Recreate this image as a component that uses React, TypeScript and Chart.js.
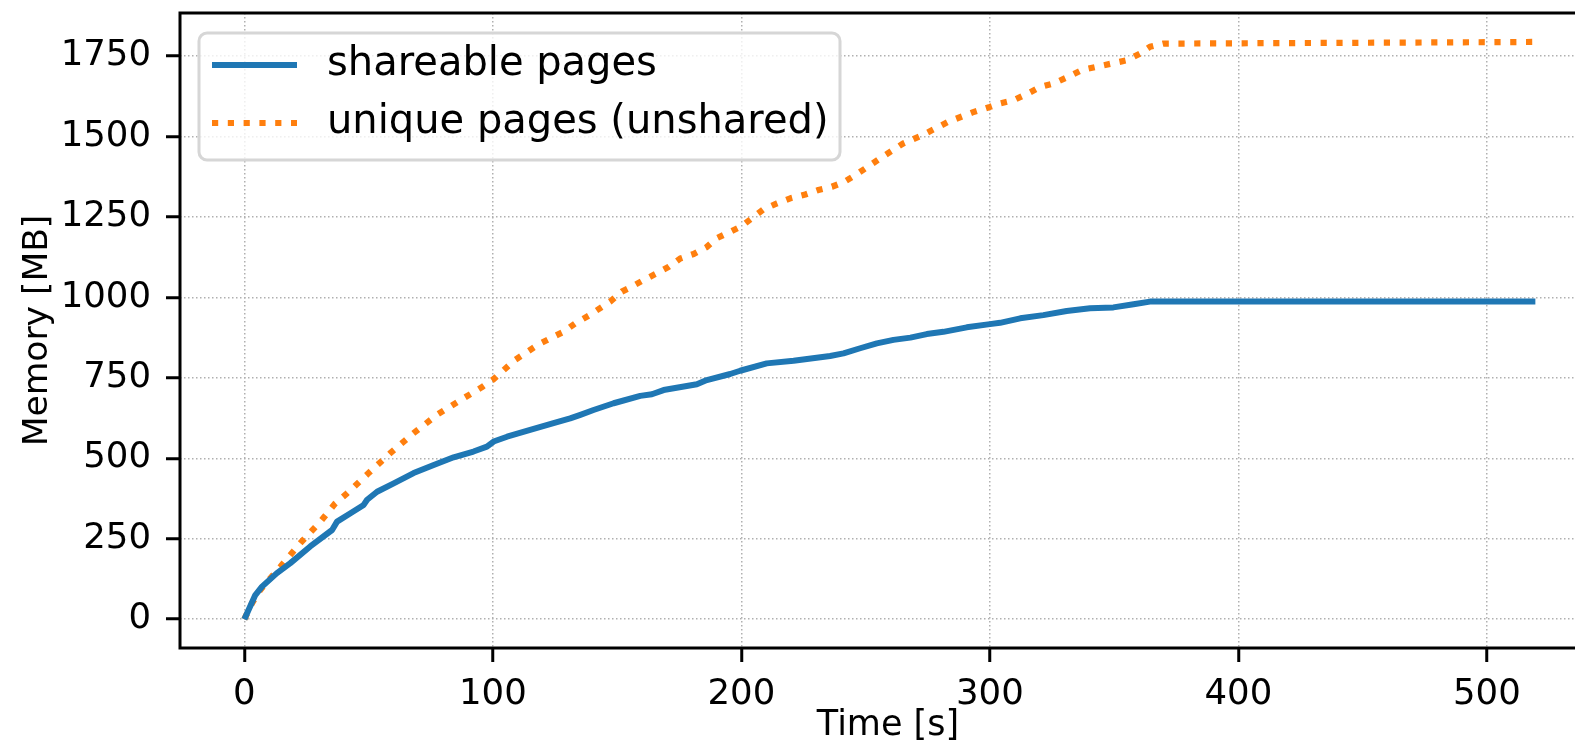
import React, { useEffect, useRef } from "react";
import { Chart, registerables } from "chart.js";

Chart.register(...registerables);

// ---- Data ----
const shareableTime = [0, 4.4, 7.1, 13.1, 18.5, 26.5, 35.3, 37.3, 42.7, 48, 49.4, 53.4, 60.1, 68.1, 76.2, 84.2, 92.2, 97.6, 100.3, 105.7, 115, 124.4, 131.1, 135.2, 140.5, 148.6, 159.3, 164, 168.7, 182.1, 186.1, 195.5, 199.5, 210.2, 221, 235.7, 241.1, 247.8, 254.5, 261.2, 268, 274.6, 281.3, 290.7, 300, 304.1, 312.2, 321.5, 330.9, 340.3, 349.7, 357.8, 364.4, 465, 519.5];
const shareableMB = [0, 75, 101, 143, 174, 226, 277, 303, 329, 355, 371, 396, 422, 454, 479, 503, 521, 536, 552, 567, 588, 609, 624, 635, 650, 671, 694, 699, 712, 730, 743, 762, 772, 795, 803, 818, 826, 842, 857, 868, 875, 886, 893, 907, 917, 921, 935, 945, 958, 966, 969, 979, 987, 987, 987];

const uniqueTime = [0, 3.1, 6.4, 14.5, 22.5, 30.6, 36.6, 41.3, 50, 58.7, 68.1, 77.5, 87, 95.6, 100.3, 109, 119, 128.4, 133.1, 138.5, 147.2, 151.9, 155.3, 160.7, 166, 170.8, 175.4, 180.8, 186.1, 190.1, 195.5, 200.2, 204.2, 208.9, 214.3, 219.7, 225.7, 231, 236.4, 241.1, 245.8, 250.5, 255.2, 260, 265, 273, 283, 293, 300, 304.1, 309.5, 314.8, 320.2, 325.6, 331.6, 337, 343, 349, 355.1, 360.4, 364.4, 369.8, 376.5, 465, 519.5];
const uniqueMB = [0, 50, 91, 163, 236, 303, 360, 391, 454, 516, 578, 635, 681, 721, 746, 806, 857, 893, 919, 943, 987, 1018, 1031, 1054, 1075, 1095, 1121, 1135, 1157, 1184, 1204, 1222, 1246, 1274, 1292, 1308, 1320, 1334, 1344, 1358, 1380, 1404, 1429, 1453, 1478, 1505, 1545, 1575, 1592, 1603, 1613, 1632, 1654, 1665, 1686, 1707, 1717, 1727, 1737, 1758, 1779, 1789, 1789, 1792, 1794];

const xTicks = [0, 100, 200, 300, 400, 500];
const yTicks = [0, 250, 500, 750, 1000, 1250, 1500, 1750];
const seriesLabels = ["shareable pages", "unique pages (unshared)"];
const xTitle = "Time [s]";
const yTitle = "Memory [MB]";

const FONT = "'DejaVu Sans', sans-serif";
const BLUE = "#1f77b4";
const ORANGE = "#ff7f0e";

const framePlugin = {
  id: "mplFrame",
  afterDraw(chart: any) {
    const { ctx, chartArea: a } = chart;
    ctx.save();
    // legend
    const bx = a.left + 19;
    const by = a.top + 20;
    const bw = 641;
    const bh = 127;
    const r = 8;
    ctx.beginPath();
    ctx.moveTo(bx + r, by);
    ctx.lineTo(bx + bw - r, by);
    ctx.arcTo(bx + bw, by, bx + bw, by + r, r);
    ctx.lineTo(bx + bw, by + bh - r);
    ctx.arcTo(bx + bw, by + bh, bx + bw - r, by + bh, r);
    ctx.lineTo(bx + r, by + bh);
    ctx.arcTo(bx, by + bh, bx, by + bh - r, r);
    ctx.lineTo(bx, by + r);
    ctx.arcTo(bx, by, bx + r, by, r);
    ctx.closePath();
    ctx.fillStyle = "rgba(255,255,255,0.8)";
    ctx.fill();
    ctx.lineWidth = 3;
    ctx.strokeStyle = "#d6d6d6";
    ctx.setLineDash([]);
    ctx.stroke();

    const rows = [by + 32, by + 90];
    chart.data.datasets.forEach((ds: any, i: number) => {
      const y = rows[i];
      ctx.beginPath();
      ctx.lineWidth = ds.borderWidth;
      ctx.strokeStyle = ds.borderColor;
      ctx.lineCap = "butt";
      ctx.setLineDash(ds.borderDash || []);
      ctx.moveTo(bx + 13, y);
      ctx.lineTo(bx + 98, y);
      ctx.stroke();
      ctx.setLineDash([]);
      ctx.fillStyle = "#000";
      ctx.font = `40px ${FONT}`;
      ctx.textBaseline = "middle";
      ctx.textAlign = "left";
      ctx.fillText(ds.label, bx + 128, y);
    });

    // axes frame
    ctx.setLineDash([]);
    ctx.strokeStyle = "#000";
    ctx.lineWidth = 3;
    ctx.strokeRect(a.left, a.top, a.right - a.left, a.bottom - a.top);
    ctx.restore();
  },
};

export default function App() {
  const ref = useRef<HTMLCanvasElement>(null);

  useEffect(() => {
    if (!ref.current) return;
    const chart = new Chart(ref.current, {
      type: "line",
      data: {
        datasets: [
          {
            label: seriesLabels[0],
            data: shareableTime.map((t, i) => ({ x: t, y: shareableMB[i] })),
            borderColor: BLUE,
            backgroundColor: BLUE,
            borderWidth: 6,
            pointRadius: 0,
            tension: 0,
            borderJoinStyle: "round",
            borderCapStyle: "butt",
          },
          {
            label: seriesLabels[1],
            data: uniqueTime.map((t, i) => ({ x: t, y: uniqueMB[i] })),
            borderColor: ORANGE,
            backgroundColor: ORANGE,
            borderWidth: 6.2,
            borderDash: [6.2, 9.6],
            pointRadius: 0,
            tension: 0,
            borderJoinStyle: "round",
            borderCapStyle: "butt",
          },
        ],
      },
      options: {
        animation: false,
        responsive: false,
        devicePixelRatio: 1,
        layout: { padding: { left: 0, right: 44, top: 13, bottom: 0 } },
        plugins: { legend: { display: false }, tooltip: { enabled: false } },
        scales: {
          x: {
            type: "linear",
            min: -25.9,
            max: 543.9,
            afterBuildTicks: (s: any) => {
              s.ticks = xTicks.map((v) => ({ value: v }));
            },
            afterFit: (s: any) => {
              s.height = 95;
              s.paddingLeft = 0;
              s.paddingRight = 0;
            },
            ticks: {
              font: { family: FONT, size: 35.5 },
              color: "#000",
              padding: 11,
              maxRotation: 0,
              autoSkip: false,
              callback: (v: any) => String(v),
            },
            grid: {
              color: "#b0b0b0",
              lineWidth: 1.5,
              drawTicks: true,
              tickLength: 14,
              tickWidth: 3,
              tickColor: "#000",
            },
            border: { display: false, dash: [1.5, 2.5] },
            title: {
              display: true,
              text: xTitle,
              color: "#000",
              font: { family: FONT, size: 35, lineHeight: 1.0 },
              padding: { top: 0, bottom: 0 },
            },
          },
          y: {
            type: "linear",
            min: -89.7,
            max: 1884,
            afterBuildTicks: (s: any) => {
              s.ticks = yTicks.map((v) => ({ value: v }));
            },
            afterFit: (s: any) => {
              s.width = 180;
              s.paddingTop = 0;
              s.paddingBottom = 0;
            },
            ticks: {
              font: { family: FONT, size: 35.5 },
              color: "#000",
              padding: 15,
              autoSkip: false,
              callback: (v: any) => String(v),
            },
            grid: {
              color: "#b0b0b0",
              lineWidth: 1.5,
              drawTicks: true,
              tickLength: 14,
              tickWidth: 3,
              tickColor: "#000",
            },
            border: { display: false, dash: [1.5, 2.5] },
            title: {
              display: true,
              text: yTitle,
              color: "#000",
              font: { family: FONT, size: 34.5, lineHeight: 1.2 },
              padding: { top: 17, bottom: 0 },
            },
          },
        },
      },
      plugins: [framePlugin],
    } as any);
    return () => chart.destroy();
  }, []);

  return (
    <div
      style={{
        position: "fixed",
        left: 0,
        top: 0,
        width: 1575,
        height: 743,
        overflow: "hidden",
        background: "#fff",
      }}
    >
      <canvas
        ref={ref}
        width={1640}
        height={743}
        style={{ width: 1640, height: 743, display: "block" }}
      />
    </div>
  );
}
